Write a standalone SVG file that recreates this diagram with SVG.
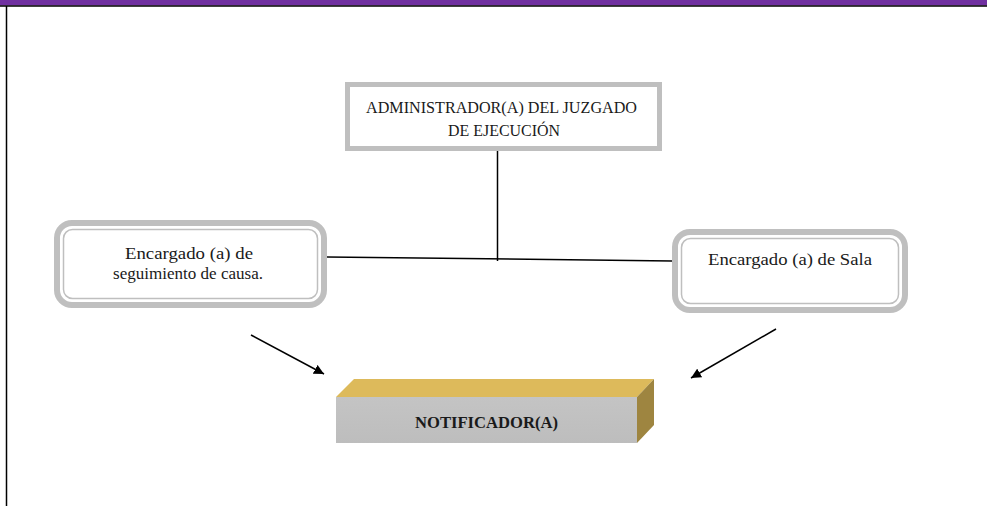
<svg xmlns="http://www.w3.org/2000/svg" width="987" height="506" viewBox="0 0 987 506">
<defs>
<style>
.box{fill:#fff;stroke:#BFBFBF;stroke-width:6}
.inner{fill:none;stroke:#BFBFBF;stroke-width:1.5}
.t{font-family:"Liberation Serif","Times New Roman",serif;font-size:16.5px;fill:#1a1a1a;text-anchor:middle}
.conn{stroke:#000;stroke-width:1.5;fill:none}
</style>
<marker id="ah" viewBox="0 0 10 10" refX="10" refY="5" markerWidth="10" markerHeight="10" markerUnits="userSpaceOnUse" orient="auto">
<path d="M0,0 L10,5 L0,10 z" fill="#000"/>
</marker>
<linearGradient id="front" x1="0" y1="0" x2="0" y2="1">
<stop offset="0" stop-color="#C4C4C4"/>
<stop offset="1" stop-color="#BDBDBD"/>
</linearGradient>
</defs>
<rect x="0" y="0" width="987" height="5.5" fill="#7030A0"/>
<line x1="0" y1="6" x2="987" y2="6" stroke="#000" stroke-width="1.5"/>
<line x1="6.5" y1="6" x2="6.5" y2="506" stroke="#000" stroke-width="1.5"/>
<g id="connectors">
<line class="conn" x1="497.5" y1="151" x2="497.5" y2="261"/>
<line class="conn" x1="327" y1="257" x2="672" y2="261"/>
<line class="conn" x1="251" y1="335" x2="324" y2="374" marker-end="url(#ah)"/>
<line class="conn" x1="776" y1="329" x2="691" y2="378" marker-end="url(#ah)"/>
</g>
<g id="admin">
<rect x="347.5" y="84.5" width="312" height="64" fill="#fff" stroke="#BFBFBF" stroke-width="5"/>
<text class="t" x="501.5" y="113" textLength="271" lengthAdjust="spacingAndGlyphs">ADMINISTRADOR(A) DEL JUZGADO</text>
<text class="t" x="504" y="136" textLength="112" lengthAdjust="spacingAndGlyphs">DE EJECUCIÓN</text>
</g>
<g id="seguimiento">
<rect class="box" x="57" y="223" width="267" height="82" rx="15"/>
<rect class="inner" x="63.5" y="229.5" width="254" height="69" rx="9"/>
<text class="t" x="189" y="259" textLength="128" lengthAdjust="spacingAndGlyphs">Encargado (a) de</text>
<text class="t" x="188" y="279" textLength="150" lengthAdjust="spacingAndGlyphs">seguimiento de causa.</text>
</g>
<g id="sala">
<rect class="box" x="675" y="232" width="230" height="78" rx="15"/>
<rect class="inner" x="681.5" y="238.5" width="217" height="65" rx="9"/>
<text class="t" x="790" y="265" textLength="164" lengthAdjust="spacingAndGlyphs">Encargado (a) de Sala</text>
</g>
<g id="notificador">
<polygon points="336,397 354,379 654,379 637,397" fill="#DDBA5B"/>
<polygon points="637,397 654,379 654,425 637,443" fill="#9E8540"/>
<rect x="336" y="397" width="301" height="46" fill="url(#front)"/>
<text class="t" x="486.5" y="428" textLength="143" lengthAdjust="spacingAndGlyphs" style="font-weight:bold">NOTIFICADOR(A)</text>
</g>
</svg>
